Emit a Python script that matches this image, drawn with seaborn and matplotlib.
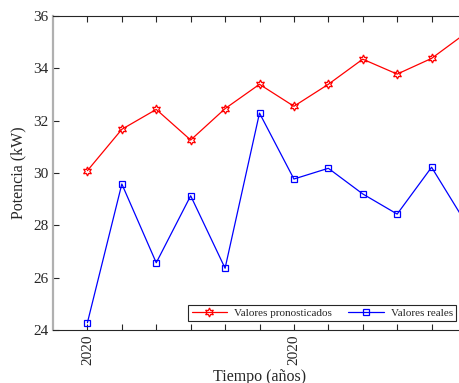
import numpy as np
import pandas as pd
import matplotlib
matplotlib.use("Agg")
import matplotlib.pyplot as plt
import seaborn as sns

# datos (12 meses)
meses = list(range(12))
pronosticados = [30.09, 31.67, 32.43, 31.26, 32.46, 33.39, 32.55, 33.39, 34.35, 33.78, 34.38, 35.35]
reales = [24.28, 29.58, 26.57, 29.13, 26.36, 32.29, 29.77, 30.18, 29.20, 28.43, 30.22, 28.08]
etiquetas_x = ["2020", "", "", "", "", "", "2020", "", "", "", "", ""]

sns.set_theme(style="ticks")
plt.rcParams['font.family'] = ['Liberation Serif', 'DejaVu Serif']

fig = plt.figure(figsize=(4.59, 3.83), dpi=100)
ax = fig.add_axes([53 / 459, 53 / 383, 413 / 459, 314 / 383])

sns.lineplot(x=meses, y=pronosticados, ax=ax, color='red', lw=0.9,
             marker=(6, 1, 0), markersize=6.5, markerfacecolor='none',
             markeredgecolor='red', markeredgewidth=0.9,
             label='Valores pronosticados')
sns.lineplot(x=meses, y=reales, ax=ax, color='blue', lw=0.9,
             marker='s', markersize=5, markerfacecolor='none',
             markeredgecolor='blue', markeredgewidth=0.9,
             label='Valores reales')

ax.set_xlim(-1, 11)
ax.set_ylim(24, 36)
ax.set_yticks([24, 26, 28, 30, 32, 34, 36])
ax.set_xticks(meses)
ax.set_xticklabels(etiquetas_x, rotation=90)
ax.tick_params(direction='in', length=4, width=0.8, color='#262626',
               labelsize=11, labelcolor='#262626', pad=3)
ax.tick_params(axis='x', top=True, bottom=True)
ax.tick_params(axis='y', left=True, right=False)

for lado in ['top', 'bottom']:
    ax.spines[lado].set_color('#262626')
    ax.spines[lado].set_linewidth(0.8)
ax.spines['left'].set_color('#b0b0b0')
ax.spines['left'].set_linewidth(1.6)
ax.spines['right'].set_visible(False)

ax.set_xlabel('Tiempo (años)', fontsize=11.5, color='#262626', labelpad=3)
ax.set_ylabel('Potencia (kW)', fontsize=11.5, color='#262626', labelpad=5)

leg = ax.legend(loc='lower right', bbox_to_anchor=(456 / 459, (383 - 321) / 383),
                bbox_transform=fig.transFigure, ncol=2, fontsize=8,
                fancybox=False, framealpha=1, edgecolor='#262626',
                handlelength=3.2, columnspacing=1.5, handletextpad=0.6,
                borderpad=0.3, borderaxespad=0)
leg.get_frame().set_linewidth(0.8)

fig.savefig('out.png', dpi=100)
